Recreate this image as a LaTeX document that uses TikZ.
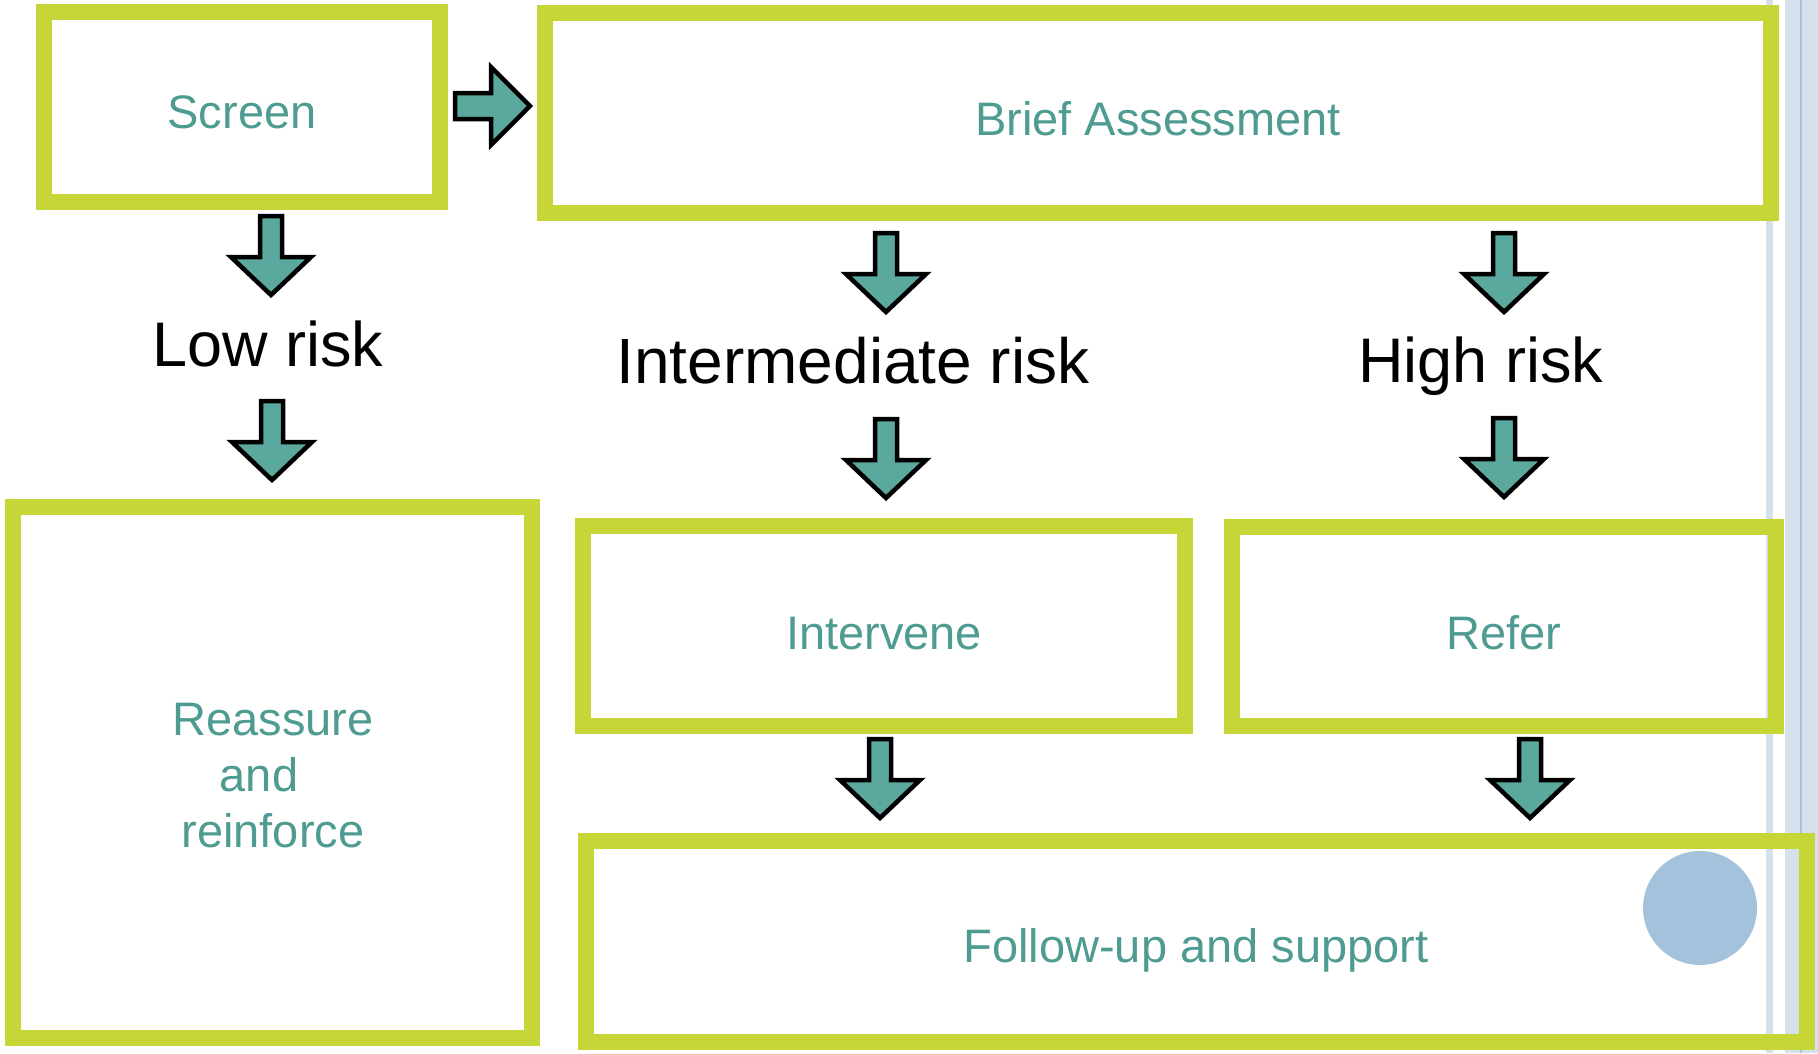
\documentclass[tikz,border=0pt]{standalone}
\usepackage{fontspec}
\setmainfont{Liberation Sans}
\definecolor{lime}{RGB}{197,214,54}
\definecolor{tealtxt}{RGB}{78,155,145}
\definecolor{tealfill}{RGB}{91,168,158}
\definecolor{bandblue}{RGB}{212,225,236}
\definecolor{lineblue}{RGB}{165,195,220}
\definecolor{dotblue}{RGB}{164,194,219}
\begin{document}
\begin{tikzpicture}[x=1pt,y=1pt,
  box/.style={draw=lime, line width=16pt, rectangle, inner sep=0pt},
  boxtext/.style={text=tealtxt, font=\fontsize{47}{56}\selectfont, inner sep=0pt},
  risk/.style={anchor=base, text=black, inner sep=0pt},
  blockarrow/.style={draw=black, fill=tealfill, line width=4.5pt, miter limit=10},
  pics/darrow/.style={code={\path[blockarrow] (-11,-2) -- (11,-2) -- (11,-43) -- (40,-43) -- (0,-81) -- (-40,-43) -- (-11,-43) -- cycle;}},
  pics/rarrow/.style={code={\path[blockarrow] (2,13) -- (38,13) -- (38,39) -- (77,0) -- (38,-39) -- (38,-13) -- (2,-13) -- cycle;}}
]
\useasboundingbox (0,0) rectangle (1818,-1053);
\fill[white] (0,0) rectangle (1818,-1053);
% right edge decoration
\fill[bandblue] (1785,0) rectangle (1818,-1053);
\draw[lineblue, line width=2pt] (1801,0) -- (1801,-1053);
\fill[bandblue] (1766,0) rectangle (1773,-1053);

% boxes
\node[box, minimum width=396, minimum height=190] (screen) at (242,-107) {};
\node[box, minimum width=1226, minimum height=200] (brief) at (1158,-113) {};
\node[box, minimum width=519, minimum height=531] (reassure) at (272,-772.5) {};
\node[box, minimum width=602, minimum height=200] (intervene) at (884,-626) {};
\node[box, minimum width=544, minimum height=199] (refer) at (1504,-626.5) {};
\node[box, minimum width=1221, minimum height=201] (follow) at (1196.5,-941.5) {};
\node[circle, fill=dotblue, minimum size=114, inner sep=0pt] (dot) at (1700,-908) {};

% box texts
\node[boxtext, anchor=base] (screentxt) at (242,-128) {Screen};
\node[boxtext, anchor=base] (brieftxt) at (1158,-135) {Brief Assessment};
\node[boxtext, anchor=base] (intervenetxt) at (884,-649) {Intervene};
\node[boxtext, anchor=base] (refertxt) at (1504,-649) {Refer};
\node[boxtext, anchor=base] (followtxt) at (1196,-962) {Follow-up and support};
\node[boxtext, align=center, anchor=center] (reassuretxt) at (273,-776) {Reassure\\and\rule{28pt}{0pt}\\reinforce};

% risk labels
\node[risk, font=\fontsize{63}{75}\selectfont] (low) at (268,-366) {Low risk};
\node[risk, font=\fontsize{64}{76}\selectfont] (inter) at (853,-383) {Intermediate risk};
\node[risk, font=\fontsize{63}{75}\selectfont] (high) at (1481,-382) {High risk};

% block arrows
\pic at (453,-106) {rarrow};
\pic at (271,-214) {darrow};
\pic at (272,-399) {darrow};
\pic at (886,-231) {darrow};
\pic at (886,-417) {darrow};
\pic at (1504,-231) {darrow};
\pic at (1504,-416) {darrow};
\pic at (880,-737) {darrow};
\pic at (1530,-737) {darrow};
\end{tikzpicture}
\end{document}
